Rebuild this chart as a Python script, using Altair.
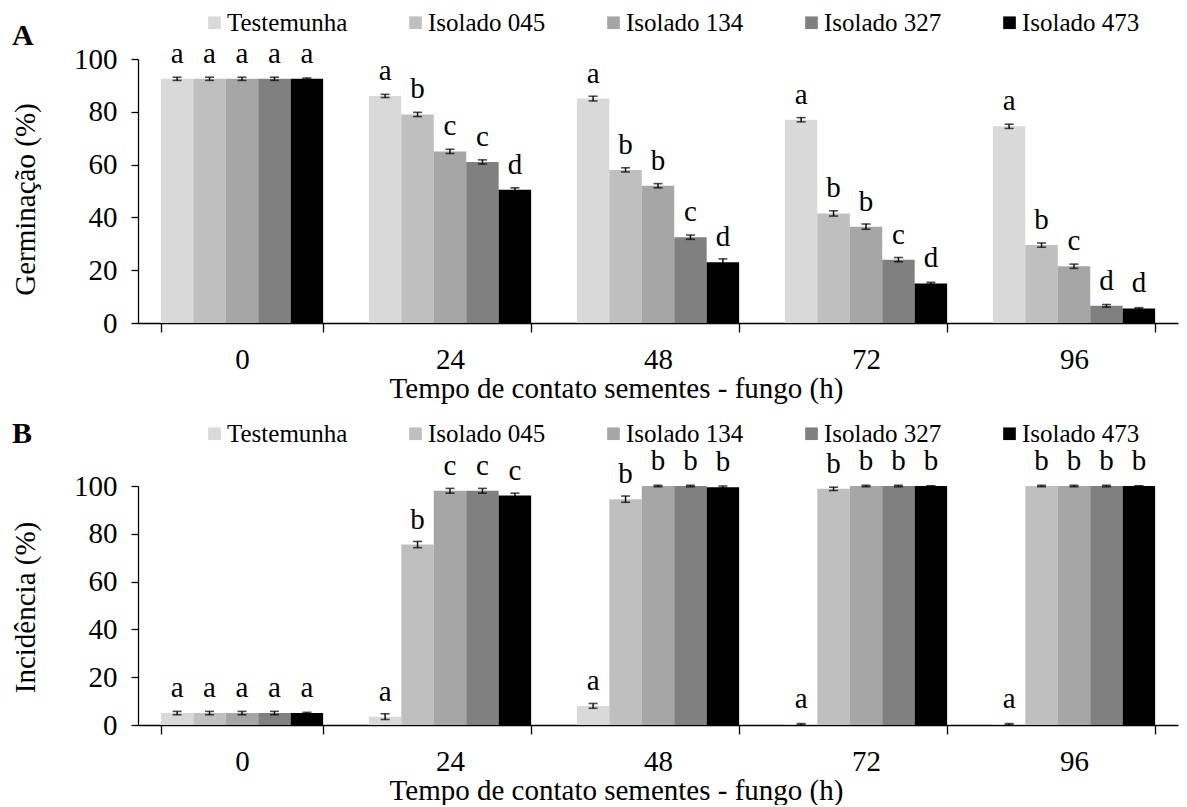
import altair as alt
import pandas as pd

FONT = "Liberation Serif"

times = ["0", "24", "48", "72", "96"]
series = ["Testemunha", "Isolado 045", "Isolado 134", "Isolado 327", "Isolado 473"]
colors = ["#d9d9d9", "#bfbfbf", "#a6a6a6", "#808080", "#000000"]

# Panel A - Germinação (%)
germ_test = [92.5, 86.0, 85.0, 77.0, 74.5]
germ_045 = [92.5, 79.0, 58.0, 41.5, 29.5]
germ_134 = [92.5, 65.0, 52.0, 36.5, 21.5]
germ_327 = [92.5, 61.0, 32.5, 24.0, 6.5]
germ_473 = [92.5, 50.5, 23.0, 15.0, 5.5]

germ_err_test = [0.6, 0.6, 0.9, 0.8, 0.8]
germ_err_045 = [0.6, 0.8, 0.8, 1.0, 0.8]
germ_err_134 = [0.6, 0.8, 0.8, 1.0, 0.8]
germ_err_327 = [0.6, 0.8, 0.8, 0.8, 0.5]
germ_err_473 = [0.3, 0.7, 1.3, 0.4, 0.3]

germ_let_test = ["a", "a", "a", "a", "a"]
germ_let_045 = ["a", "b", "b", "b", "b"]
germ_let_134 = ["a", "c", "b", "b", "c"]
germ_let_327 = ["a", "c", "c", "c", "d"]
germ_let_473 = ["a", "d", "d", "d", "d"]

# Panel B - Incidência (%)
inc_test = [5.0, 3.5, 8.0, 0.3, 0.3]
inc_045 = [5.0, 75.5, 94.5, 98.8, 100.0]
inc_134 = [5.0, 98.0, 100.0, 100.0, 100.0]
inc_327 = [5.0, 98.0, 100.0, 100.0, 100.0]
inc_473 = [5.0, 96.0, 99.5, 100.0, 100.0]

inc_err_test = [0.7, 1.2, 1.0, 0.3, 0.3]
inc_err_045 = [0.7, 1.3, 1.3, 0.7, 0.3]
inc_err_134 = [0.7, 1.0, 0.3, 0.3, 0.3]
inc_err_327 = [0.7, 1.0, 0.3, 0.3, 0.3]
inc_err_473 = [0.3, 1.0, 0.5, 0.0, 0.0]

inc_let_test = ["a", "a", "a", "a", "a"]
inc_let_045 = ["a", "b", "b", "b", "b"]
inc_let_134 = ["a", "c", "b", "b", "b"]
inc_let_327 = ["a", "c", "b", "b", "b"]
inc_let_473 = ["a", "c", "b", "b", "b"]


def build(values, errors, letters):
    rows = []
    for s, vals, errs, lets in zip(series, values, errors, letters):
        for t, v, e, l in zip(times, vals, errs, lets):
            rows.append({"time": t, "series": s, "value": v,
                         "lo": v - e, "hi": v + e, "letter": l})
    return pd.DataFrame(rows)


dfA = build([germ_test, germ_045, germ_134, germ_327, germ_473],
            [germ_err_test, germ_err_045, germ_err_134, germ_err_327, germ_err_473],
            [germ_let_test, germ_let_045, germ_let_134, germ_let_327, germ_let_473])
dfB = build([inc_test, inc_045, inc_134, inc_327, inc_473],
            [inc_err_test, inc_err_045, inc_err_134, inc_err_327, inc_err_473],
            [inc_let_test, inc_let_045, inc_let_134, inc_let_327, inc_let_473])

W = 1040


def panel(df, ytitle, height, tag, title_y, legend_y, tag_y):
    xenc = alt.X("time:N", sort=times,
                 scale=alt.Scale(paddingInner=0.22, paddingOuter=0.11),
                 axis=alt.Axis(title="Tempo de contato sementes - fungo (h)",
                               tickBand="extent", labelAngle=0,
                               tickSize=9, labelPadding=13,
                               titleX=478, titleAlign="center",
                               titlePadding=0))
    xoff = alt.XOffset("series:N", sort=series,
                       scale=alt.Scale(paddingInner=0, paddingOuter=0))
    yscale = alt.Scale(domain=[0, 100], nice=False)
    yaxis = alt.Axis(title=ytitle, values=[0, 20, 40, 60, 80, 100],
                     tickSize=7, labelPadding=14, titlePadding=33,
                     titleY=title_y)

    def Y(field):
        return alt.Y(field, scale=yscale, axis=yaxis)

    base = alt.Chart(df).encode(x=xenc, xOffset=xoff)
    bars = base.mark_bar().encode(
        y=Y("value:Q"),
        color=alt.Color("series:N", sort=series,
                        scale=alt.Scale(domain=series, range=colors),
                        legend=alt.Legend(title=None, orient="none",
                                          legendX=64, legendY=legend_y,
                                          direction="horizontal",
                                          symbolType="square", symbolSize=160,
                                          symbolStrokeWidth=0,
                                          labelFontSize=25, labelFont=FONT,
                                          labelOffset=0, columnPadding=55,
                                          labelLimit=400)),
    )
    rule = base.mark_rule(color="black", strokeWidth=1.4).encode(
        y=Y("lo:Q"), y2="hi:Q")
    cap_hi = base.mark_tick(color="black", size=9, thickness=1.6).encode(y=Y("hi:Q"))
    cap_lo = base.mark_tick(color="black", size=9, thickness=1.6).encode(y=Y("lo:Q"))
    letters = base.mark_text(baseline="alphabetic", dy=-16, fontSize=29,
                             font=FONT, color="black").encode(
        y=Y("value:Q"), text="letter:N")
    tag_text = alt.Chart(pd.DataFrame({"t": [tag]})).mark_text(
        font=FONT, fontSize=30, fontWeight="bold", color="black",
        align="left", baseline="middle").encode(
        text="t:N", x=alt.value(-126), y=alt.value(tag_y))
    return alt.layer(bars, rule, cap_hi, cap_lo, letters, tag_text).properties(
        width=W, height=height)


chartA = panel(dfA, "Germinação (%)", 264, "A", 140, -49, -23)
chartB = panel(dfB, "Incidência (%)", 239, "B", 121, -65, -52)

chart = alt.vconcat(chartA, chartB, spacing=16).resolve_legend(
    color="independent"
).configure(
    font=FONT,
    padding={"top": 10, "left": 11, "right": 2, "bottom": 0},
).configure_axis(
    labelFont=FONT, titleFont=FONT, labelFontSize=29, titleFontSize=29,
    titleFontWeight="normal", labelColor="black", titleColor="black",
    domainColor="black", tickColor="black", domainWidth=1.3, tickWidth=1.3,
    grid=False,
).configure_view(stroke=None)

chart.save("out.html", embed_options={"renderer": "svg", "actions": False})
